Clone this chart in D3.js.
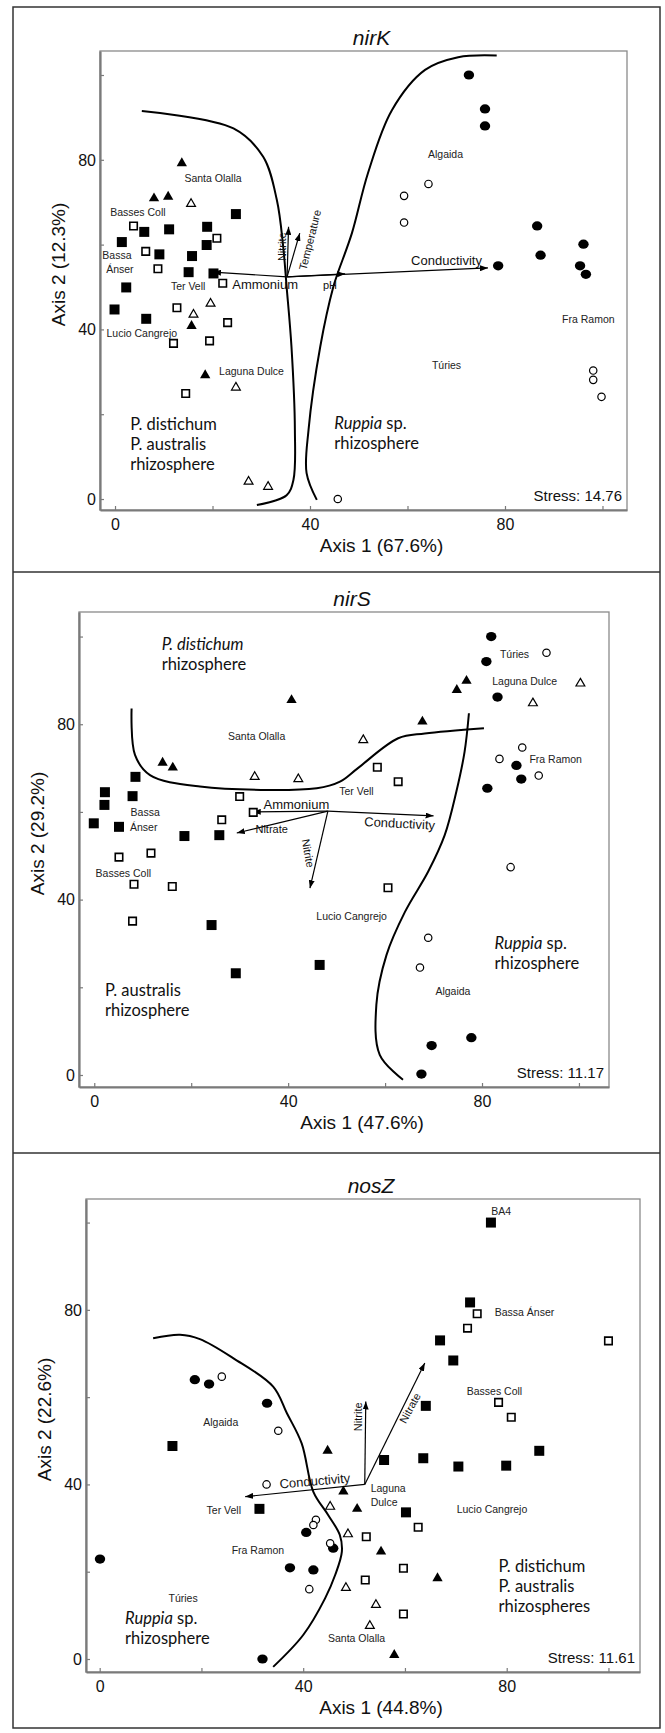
<!DOCTYPE html>
<html><head><meta charset="utf-8">
<script src="https://cdn.jsdelivr.net/npm/d3@7"></script>
<style>body{margin:0;background:#fff}</style>
</head><body>
<svg id="c" width="665" height="1733"></svg>
<script>
// ---------------- DATA ----------------
const tickValues = [0, 20, 40, 60, 80, 100];
const tickLabelValues = [0, 40, 80];

// nirK
const nirK_title = "nirK";
const nirK_xTitle = "Axis 1 (67.6%)";
const nirK_yTitle = "Axis 2 (12.3%)";
const nirK_stress = "Stress: 14.76";
const nirK_filledSquares = [[24.8,67.2],[6.0,63.0],[11.1,63.6],[18.9,64.2],[18.8,59.9],[1.4,60.6],[9.1,57.7],[15.8,57.3],[15.1,53.5],[20.2,53.2],[2.3,49.9],[-0.1,44.7],[6.4,42.5]];
const nirK_openSquares = [[3.8,64.4],[20.9,61.5],[6.3,58.4],[8.8,54.3],[22.1,50.9],[12.7,45.1],[23.1,41.6],[12.0,36.7],[19.4,37.3],[14.5,24.9]];
const nirK_filledTriangles = [[13.7,79.2],[8.0,70.9],[10.9,71.3],[15.7,40.8],[18.5,29.2]];
const nirK_openTriangles = [[15.6,69.6],[16.1,43.5],[19.6,46.1],[24.8,26.3],[27.4,4.1],[31.4,2.9]];
const nirK_filledCircles = [[72.6,100.0],[75.9,92.0],[75.9,88.0],[86.6,64.4],[87.3,57.5],[96.1,60.1],[95.4,55.0],[96.6,53.0],[78.6,55.0]];
const nirK_openCircles = [[64.3,74.3],[59.3,71.5],[59.3,65.2],[98.1,30.3],[98.1,28.1],[99.8,24.1],[45.7,0.0]];
const nirK_curves = [
  [[5.5,91.5],[24.3,87.4],[30.4,80.7],[33.2,70.5],[34.5,59.5],[35.2,50.1],[36.2,35.9],[36.9,16.3],[36.6,4.5],[35.2,0.9],[29.1,-1.4]],
  [[78.3,104.6],[70.4,104.2],[63.6,101.2],[56.8,91.7],[51.9,76.9],[48.6,62.7],[45.7,53.3],[44.8,50.1],[42.1,35.9],[39.7,16.3],[39.3,6.1],[41.4,-0.2]]
];
const nirK_origin = [35.3, 52.4];
const nirK_vectors = [["Ammonium",20.1,53.5],["Conductivity",76.5,54.5],["pH",47.2,53.1],["Nitrite",35.6,64.2],["Temperature",37.9,62.7]];
const nirK_vectorLabels = [["Ammonium",30.8,50.6,0],["Conductivity",68.0,56.2,0],["pH",44.1,50.5,0],["Nitrite",34.2,59.5,-90],["Temperature",40.0,61.1,-76]];
const nirK_sites = [["Santa Olalla",20.1,75.7],["Basses Coll",4.7,67.7],["Bassa",0.4,57.5],["Ánser",1.0,54.2],["Ter Vell",15.0,50.2],["Lucio Cangrejo",5.5,39.1],["Laguna Dulce",28.0,30.0],["Algaida",67.8,81.4],["Fra Ramon",97.1,42.4],["Túries",68.0,31.6]];
const nirK_regions = [
  [3.1, [[["P. distichum",false]],[["P. australis",false]],[["rhizosphere",false]]], 17.7],
  [45.0, [[["Ruppia",true],[" sp.",false]],[["rhizosphere",false]]], 17.9]
];

// nirS
const nirS_title = "nirS";
const nirS_xTitle = "Axis 1 (47.6%)";
const nirS_yTitle = "Axis 2 (29.2%)";
const nirS_stress = "Stress: 11.17";
const nirS_filledSquares = [[8.5,68.0],[2.2,64.5],[2.1,61.6],[7.9,63.6],[-0.1,57.4],[5.1,56.6],[18.6,54.5],[25.8,54.7],[24.2,34.2],[29.2,23.2],[46.5,25.1]];
const nirS_openSquares = [[30.0,63.5],[32.8,59.9],[26.3,58.2],[5.1,49.7],[11.7,50.6],[8.2,43.5],[16.1,43.0],[7.9,35.1],[58.4,70.2],[62.7,66.9],[60.6,42.7]];
const nirS_filledTriangles = [[40.7,85.5],[14.1,71.2],[16.2,70.1],[76.8,89.9],[74.8,87.8],[67.7,80.6]];
const nirS_openTriangles = [[33.1,68.0],[42.1,67.5],[55.5,76.4],[100.3,89.3],[90.5,84.8]];
const nirS_filledCircles = [[81.9,100.0],[80.9,94.3],[83.2,86.2],[87.1,70.6],[88.1,67.5],[81.1,65.4],[77.8,8.5],[69.6,6.7],[67.5,0.2]];
const nirS_openCircles = [[93.3,96.3],[88.3,74.7],[83.6,72.1],[91.7,68.3],[85.9,47.4],[68.9,31.3],[67.2,24.5]];
const nirS_curves = [
  [[7.7,83.6],[8.4,73.0],[11.5,68.4],[21.8,65.8],[45.9,65.4],[50.7,66.9],[54.4,70.0],[62.7,76.8],[68.2,77.9],[80.4,79.1]],
  [[77.3,82.5],[76.4,73.7],[74.7,64.6],[72.3,54.7],[68.9,46.4],[64.1,37.2],[60.3,27.4],[58.2,16.0],[58.9,4.6],[63.7,-1.1]]
];
const nirS_origin = [48.2, 60.2];
const nirS_vectors = [["Ammonium",32.7,60.0],["Nitrate",29.4,55.2],["Conductivity",70.0,59.1],["Nitrite",44.5,42.6]];
const nirS_vectorLabels = [["Ammonium",41.7,61.7,0],["Nitrate",36.6,56.1,0],["Conductivity",63.0,57.4,3],["Nitrite",44.1,50.6,80]];
const nirS_sites = [["Santa Olalla",33.5,77.3],["Bassa",10.5,59.9],["Ánser",10.2,56.6],["Basses Coll",6.0,46.0],["Ter Vell",54.1,64.8],["Túries",86.7,96.0],["Laguna Dulce",88.8,89.9],["Fra Ramon",95.2,72.0],["Lucio Cangrejo",53.1,36.1],["Algaida",74.0,19.0]];
const nirS_regions = [
  [13.9, [[["P. distichum",true]],[["rhizosphere",false]]], 98.2],
  [2.2, [[["P. australis",false]],[["rhizosphere",false]]], 19.4],
  [82.6, [[["Ruppia",true],[" sp.",false]],[["rhizosphere",false]]], 30.0]
];

// nosZ
const nosZ_title = "nosZ";
const nosZ_xTitle = "Axis 1 (44.8%)";
const nosZ_yTitle = "Axis 2 (22.6%)";
const nosZ_stress = "Stress: 11.61";
const nosZ_filledSquares = [[76.9,100.0],[72.8,81.7],[66.9,73.0],[69.5,68.4],[64.1,58.0],[14.3,48.8],[55.9,45.6],[63.6,46.0],[70.5,44.1],[79.9,44.3],[86.4,47.7],[31.4,34.4],[60.2,33.6]];
const nosZ_openSquares = [[74.2,79.1],[72.3,75.8],[100.0,72.9],[78.4,58.8],[80.9,55.4],[62.6,30.2],[52.4,28.0],[59.7,20.8],[52.2,18.1],[59.7,10.3]];
const nosZ_filledTriangles = [[44.8,47.7],[47.9,38.4],[50.6,34.4],[55.3,24.6],[66.4,18.5],[57.9,0.9]];
const nosZ_openTriangles = [[45.3,34.9],[48.8,28.6],[48.4,16.3],[54.3,12.4],[53.1,7.6]];
const nosZ_filledCircles = [[18.7,64.0],[21.5,63.0],[32.9,58.6],[40.6,29.0],[45.9,25.4],[0.06,22.9],[37.4,20.9],[42.0,20.4],[32.0,0.0]];
const nosZ_openCircles = [[24.0,64.7],[35.1,52.3],[32.8,40.0],[42.5,31.9],[42.0,30.7],[45.3,26.5],[41.2,16.0]];
const nosZ_curves = [
  [[10.5,73.5],[15.8,74.3],[19.7,73.3],[26.3,68.9],[34.1,62.4],[36.8,56.3],[39.7,49.4],[42.0,38.3],[44.9,33.0],[47.2,28.4],[47.6,24.6],[46.3,19.3],[44.3,13.9],[40.0,5.5],[34.1,-1.8]]
];
const nosZ_origin = [52.1, 40.0];
const nosZ_vectors = [["Nitrite",52.3,59.0],["Nitrate",63.9,67.8],["Conductivity",28.6,37.2]];
const nosZ_vectorLabels = [["Nitrite",50.8,55.5,-90],["Nitrate",61.0,57.5,-62],["Conductivity",42.3,40.8,-5]];
const nosZ_sites = [["BA4",78.9,102.5],["Bassa Ánser",83.5,79.5],["Basses Coll",77.6,61.4],["Algaida",23.8,54.2],["Ter Vell",24.4,34.0],["Laguna",56.7,39.1],["Dulce",55.9,35.8],["Lucio Cangrejo",77.1,34.2],["Fra Ramon",31.1,25.0],["Túries",16.4,13.8],["Santa Olalla",50.5,4.7]];
const nosZ_regions = [
  [5.0, [[["Ruppia",true],[" sp.",false]],[["rhizosphere",false]]], 9.3],
  [78.4, [[["P. distichum",false]],[["P. australis",false]],[["rhizospheres",false]]], 21.2]
];

// ---------------- LAYOUT ----------------
const panels = [
  {title:nirK_title, xTitle:nirK_xTitle, yTitle:nirK_yTitle, stress:nirK_stress,
   rect:{l:100,t:51,r:627,b:510}, xd:[-3.08,105.03], yd:[-2.59,105.66],
   fs:nirK_filledSquares, os:nirK_openSquares, ft:nirK_filledTriangles, ot:nirK_openTriangles, fc:nirK_filledCircles, oc:nirK_openCircles,
   curves:nirK_curves, origin:nirK_origin, vectors:nirK_vectors, vlabels:nirK_vectorLabels, sites:nirK_sites, regions:nirK_regions},
  {title:nirS_title, xTitle:nirS_xTitle, yTitle:nirS_yTitle, stress:nirS_stress,
   rect:{l:79,t:612,r:609,b:1087}, xd:[-3.15,106.2], yd:[-2.74,105.6],
   fs:nirS_filledSquares, os:nirS_openSquares, ft:nirS_filledTriangles, ot:nirS_openTriangles, fc:nirS_filledCircles, oc:nirS_openCircles,
   curves:nirS_curves, origin:nirS_origin, vectors:nirS_vectors, vlabels:nirS_vectorLabels, sites:nirS_sites, regions:nirS_regions},
  {title:nosZ_title, xTitle:nosZ_xTitle, yTitle:nosZ_yTitle, stress:nosZ_stress,
   rect:{l:86,t:1199,r:640,b:1672}, xd:[-2.69,106.2], yd:[-2.98,105.4],
   fs:nosZ_filledSquares, os:nosZ_openSquares, ft:nosZ_filledTriangles, ot:nosZ_openTriangles, fc:nosZ_filledCircles, oc:nosZ_openCircles,
   curves:nosZ_curves, origin:nosZ_origin, vectors:nosZ_vectors, vlabels:nosZ_vectorLabels, sites:nosZ_sites, regions:nosZ_regions}
];

const svg = d3.select("#c");
const SANS = "'Liberation Sans', Arial, sans-serif";
const MYRIAD = "Lato, 'Open Sans', sans-serif";

svg.append("defs").append("marker")
  .attr("id","ah").attr("viewBox","0 0 8 6").attr("refX",8).attr("refY",3)
  .attr("markerWidth",8).attr("markerHeight",6).attr("markerUnits","userSpaceOnUse")
  .attr("orient","auto")
  .append("path").attr("d","M0,0 L8,3 L0,6 Z").attr("fill","#000");

// outer frame and dividers
svg.append("rect").attr("x",13).attr("y",7).attr("width",647).attr("height",1721)
  .attr("fill","none").attr("stroke","#333").attr("stroke-width",1.5);
[572,1153].forEach(y => svg.append("line").attr("x1",13).attr("x2",660).attr("y1",y).attr("y2",y)
  .attr("stroke","#333").attr("stroke-width",1.5));

panels.forEach(p => {
  const R = p.rect;
  const x = d3.scaleLinear().domain(p.xd).range([R.l, R.r]);
  const y = d3.scaleLinear().domain(p.yd).range([R.b, R.t]);
  const g = svg.append("g");

  // frame
  g.append("rect").attr("x",R.l).attr("y",R.t).attr("width",R.r-R.l).attr("height",R.b-R.t)
    .attr("fill","none").attr("stroke","#8a8a8a").attr("stroke-width",1.3);

  // axes
  const fmt = d => tickLabelValues.includes(d) ? d : "";
  const xa = g.append("g").attr("transform",`translate(0,${R.b})`)
    .call(d3.axisBottom(x).tickValues(tickValues).tickSizeInner(-4).tickSizeOuter(0).tickFormat(fmt));
  const ya = g.append("g").attr("transform",`translate(${R.l},0)`)
    .call(d3.axisLeft(y).tickValues(tickValues).tickSizeInner(-4).tickSizeOuter(0).tickFormat(fmt));
  [xa,ya].forEach(a => {
    a.select(".domain").attr("stroke","#7a7a7a").attr("stroke-width",2.2);
    a.selectAll(".tick line").attr("stroke","#7a7a7a").attr("stroke-width",1.2);
    a.selectAll("text").attr("font-family",SANS).attr("font-size",16).attr("fill","#111");
  });
  xa.selectAll("text").attr("y",9).attr("dy","0.71em");
  ya.selectAll("text").attr("x",-4).attr("dy","0.33em");

  // titles
  g.append("text").attr("x",(R.l+R.r)/2+8).attr("y",R.t-6)
    .attr("text-anchor","middle").attr("font-family",SANS).attr("font-style","italic")
    .attr("font-size",21).attr("fill","#111").text(p.title);
  g.append("text").attr("x",(R.l+R.r)/2+18).attr("y",R.b+42)
    .attr("text-anchor","middle").attr("font-family",SANS).attr("font-size",19).attr("fill","#111").text(p.xTitle);
  g.append("text").attr("transform",`translate(${R.l-35},${(R.t+R.b)/2-16}) rotate(-90)`)
    .attr("text-anchor","middle").attr("font-family",SANS).attr("font-size",19).attr("fill","#111").text(p.yTitle);

  // curves
  const line = d3.line().x(d=>x(d[0])).y(d=>y(d[1])).curve(d3.curveCatmullRom.alpha(0.5));
  p.curves.forEach(c => g.append("path").attr("d",line(c)).attr("fill","none")
    .attr("stroke","#000").attr("stroke-width",2));

  // vectors
  p.vectors.forEach(v => g.append("line")
    .attr("x1",x(p.origin[0])).attr("y1",y(p.origin[1]))
    .attr("x2",x(v[1])).attr("y2",y(v[2]))
    .attr("stroke","#000").attr("stroke-width",1.2).attr("marker-end","url(#ah)"));
  p.vlabels.forEach(v => {
    const fsz = (v[0]==="Ammonium"||v[0]==="Conductivity") ? 13 : 11;
    g.append("text").attr("transform",`translate(${x(v[1])},${y(v[2])}) rotate(${v[3]})`)
      .attr("text-anchor","middle").attr("dy","0.35em").attr("font-family",SANS)
      .attr("font-size",fsz).attr("fill","#111").text(v[0]);
  });

  // markers
  const sq = d3.symbol().type(d3.symbolSquare);
  const tri = d3.symbol().type(d3.symbolTriangle);
  const tr = d => `translate(${x(d[0])},${y(d[1])})`;
  g.selectAll(null).data(p.fs).join("path").attr("transform",tr).attr("d",sq.size(100)()).attr("fill","#000");
  g.selectAll(null).data(p.os).join("path").attr("transform",tr).attr("d",sq.size(56)()).attr("fill","#fff").attr("stroke","#000").attr("stroke-width",1.6);
  g.selectAll(null).data(p.ft).join("path").attr("transform",tr).attr("d",tri.size(46)()).attr("fill","#000");
  g.selectAll(null).data(p.ot).join("path").attr("transform",tr).attr("d",tri.size(34)()).attr("fill","#fff").attr("stroke","#000").attr("stroke-width",1.2);
  g.selectAll(null).data(p.fc).join("ellipse").attr("cx",d=>x(d[0])).attr("cy",d=>y(d[1])).attr("rx",5.2).attr("ry",4.6).attr("fill","#000");
  g.selectAll(null).data(p.oc).join("circle").attr("cx",d=>x(d[0])).attr("cy",d=>y(d[1])).attr("r",3.7).attr("fill","#fff").attr("stroke","#000").attr("stroke-width",1.2);

  // site labels
  g.selectAll(null).data(p.sites).join("text")
    .attr("x",d=>x(d[1])).attr("y",d=>y(d[2])).attr("dy","0.35em").attr("text-anchor","middle")
    .attr("font-family",SANS).attr("font-size",10.5).attr("fill","#222").text(d=>d[0]);

  // region labels
  p.regions.forEach(r => {
    r[1].forEach((ln,i) => {
      const t = g.append("text").attr("x",x(r[0])).attr("y",y(r[2])+i*20).attr("dy","0.35em")
        .attr("font-family",MYRIAD).attr("font-size",16.5).attr("fill","#111");
      ln.forEach(seg => t.append("tspan").attr("font-style",seg[1]?"italic":"normal").text(seg[0]));
    });
  });

  // stress
  g.append("text").attr("x",R.r-5).attr("y",R.b-14).attr("dy","0.35em").attr("text-anchor","end")
    .attr("font-family",SANS).attr("font-size",15).attr("fill","#111").text(p.stress);
});
</script>
</body></html>
